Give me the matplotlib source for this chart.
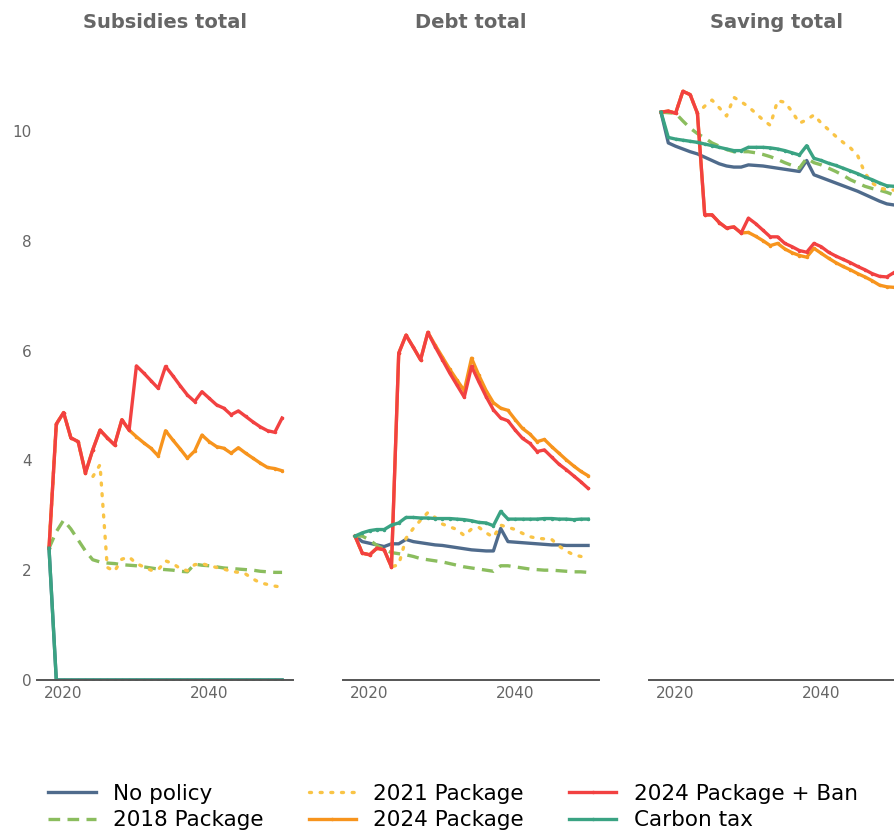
import matplotlib
matplotlib.use("Agg")
import matplotlib.pyplot as plt

years = list(range(2018, 2051))
panel_titles = ["Subsidies total", "Debt total", "Saving total"]
scenario_names = ["No policy", "2018 Package", "2021 Package", "2024 Package",
                  "2024 Package + Ban", "Carbon tax"]

# subsidies total
subsidies_no_policy = [2.40, 0, 0, 0, 0, 0, 0, 0, 0, 0, 0, 0, 0, 0, 0, 0, 0,
                       0, 0, 0, 0, 0, 0, 0, 0, 0, 0, 0, 0, 0, 0, 0, 0]
subsidies_2018 = [2.40, 2.70, 2.91, 2.75, 2.55, 2.35, 2.19, 2.15, 2.13, 2.12,
                  2.10, 2.09, 2.08, 2.06, 2.04, 2.02, 2.01, 2.00, 1.98, 1.97,
                  2.11, 2.09, 2.08, 2.06, 2.04, 2.03, 2.02, 2.01, 2.00, 1.98,
                  1.97, 1.96, 1.96]
subsidies_2021 = [2.40, 4.66, 4.87, 4.41, 4.34, 3.77, 3.70, 3.92, 2.05, 1.98,
                  2.20, 2.24, 2.12, 2.06, 2.00, 2.01, 2.17, 2.12, 2.03, 1.99,
                  2.10, 2.12, 2.08, 2.05, 2.02, 1.98, 1.96, 1.93, 1.84, 1.77,
                  1.74, 1.71, 1.69]
subsidies_2024 = [2.40, 4.66, 4.87, 4.41, 4.34, 3.77, 4.19, 4.55, 4.41, 4.28,
                  4.74, 4.55, 4.43, 4.32, 4.22, 4.08, 4.54, 4.37, 4.21, 4.04,
                  4.17, 4.46, 4.34, 4.25, 4.22, 4.13, 4.23, 4.13, 4.04, 3.95,
                  3.87, 3.85, 3.81]
subsidies_ban = [2.40, 4.66, 4.87, 4.41, 4.34, 3.77, 4.19, 4.55, 4.41, 4.28,
                 4.74, 4.55, 5.72, 5.59, 5.45, 5.31, 5.71, 5.54, 5.36, 5.19,
                 5.07, 5.25, 5.13, 5.01, 4.95, 4.83, 4.90, 4.80, 4.70, 4.61,
                 4.54, 4.51, 4.77]
subsidies_carbon = [2.40, 0, 0, 0, 0, 0, 0, 0, 0, 0, 0, 0, 0, 0, 0, 0, 0,
                    0, 0, 0, 0, 0, 0, 0, 0, 0, 0, 0, 0, 0, 0, 0, 0]

# debt total
debt_no_policy = [2.62, 2.52, 2.49, 2.46, 2.43, 2.48, 2.48, 2.56, 2.52, 2.50,
                  2.48, 2.46, 2.45, 2.43, 2.41, 2.39, 2.37, 2.36, 2.35, 2.35,
                  2.76, 2.52, 2.51, 2.50, 2.49, 2.48, 2.47, 2.46, 2.46, 2.45,
                  2.45, 2.45, 2.45]
debt_2018 = [2.62, 2.62, 2.55, 2.45, 2.38, 2.32, 2.30, 2.28, 2.25, 2.21,
             2.19, 2.17, 2.15, 2.12, 2.09, 2.06, 2.04, 2.02, 2.00, 1.98,
             2.08, 2.08, 2.06, 2.04, 2.02, 2.01, 2.00, 2.00, 1.99, 1.98,
             1.97, 1.97, 1.96]
debt_2021 = [2.62, 2.31, 2.28, 2.40, 2.37, 2.06, 2.10, 2.58, 2.76, 2.91,
             3.05, 2.96, 2.84, 2.79, 2.74, 2.63, 2.75, 2.78, 2.68, 2.60,
             2.82, 2.78, 2.74, 2.67, 2.61, 2.58, 2.57, 2.56, 2.44, 2.35,
             2.28, 2.25, 2.22]
debt_2024 = [2.62, 2.31, 2.28, 2.40, 2.37, 2.06, 5.95, 6.28, 6.06, 5.83,
             6.33, 6.10, 5.88, 5.66, 5.46, 5.27, 5.86, 5.55, 5.27, 5.05,
             4.95, 4.91, 4.74, 4.58, 4.48, 4.34, 4.38, 4.25, 4.13, 4.01,
             3.90, 3.80, 3.72]
debt_ban = [2.62, 2.31, 2.28, 2.40, 2.37, 2.06, 5.95, 6.28, 6.06, 5.83,
            6.33, 6.07, 5.83, 5.59, 5.37, 5.15, 5.71, 5.43, 5.16, 4.92,
            4.77, 4.72, 4.55, 4.40, 4.31, 4.16, 4.19, 4.06, 3.93, 3.83,
            3.72, 3.61, 3.49]
debt_carbon = [2.62, 2.68, 2.72, 2.74, 2.74, 2.82, 2.86, 2.96, 2.96, 2.95,
               2.95, 2.94, 2.94, 2.94, 2.93, 2.92, 2.90, 2.87, 2.86, 2.81,
               3.07, 2.93, 2.93, 2.93, 2.93, 2.93, 2.94, 2.94, 2.93, 2.93,
               2.92, 2.93, 2.93]

# saving total
saving_no_policy = [10.34, 9.78, 9.72, 9.67, 9.62, 9.58, 9.52, 9.46, 9.40, 9.36,
                    9.34, 9.34, 9.38, 9.37, 9.36, 9.34, 9.32, 9.30, 9.28, 9.26,
                    9.46, 9.20, 9.15, 9.10, 9.05, 9.00, 8.95, 8.90, 8.84, 8.78,
                    8.72, 8.67, 8.65]
saving_2018 = [10.34, 10.33, 10.32, 10.18, 10.05, 9.95, 9.87, 9.78, 9.72, 9.66,
               9.62, 9.62, 9.62, 9.60, 9.57, 9.53, 9.48, 9.42, 9.37, 9.32,
               9.50, 9.42, 9.38, 9.32, 9.26, 9.19, 9.11, 9.05, 8.99, 8.95,
               8.92, 8.88, 8.83]
saving_2021 = [10.34, 10.36, 10.32, 10.72, 10.66, 10.32, 10.45, 10.56, 10.42, 10.27,
               10.61, 10.53, 10.44, 10.32, 10.20, 10.10, 10.55, 10.52, 10.35, 10.14,
               10.20, 10.29, 10.14, 10.02, 9.90, 9.79, 9.69, 9.55, 9.23, 9.05,
               8.96, 8.93, 8.92]
saving_2024 = [10.34, 10.36, 10.32, 10.72, 10.66, 10.32, 8.47, 8.47, 8.33, 8.23,
               8.25, 8.14, 8.15, 8.08, 8.00, 7.91, 7.95, 7.85, 7.78, 7.73,
               7.70, 7.86, 7.77, 7.68, 7.60, 7.53, 7.47, 7.40, 7.34, 7.27,
               7.19, 7.16, 7.15]
saving_ban = [10.34, 10.36, 10.32, 10.72, 10.66, 10.32, 8.47, 8.47, 8.33, 8.23,
              8.25, 8.14, 8.41, 8.31, 8.19, 8.07, 8.07, 7.95, 7.89, 7.82,
              7.79, 7.95, 7.89, 7.79, 7.72, 7.66, 7.60, 7.53, 7.47, 7.40,
              7.35, 7.34, 7.42]
saving_carbon = [10.34, 9.88, 9.85, 9.83, 9.81, 9.79, 9.76, 9.73, 9.70, 9.67,
                 9.64, 9.64, 9.70, 9.70, 9.70, 9.69, 9.67, 9.64, 9.60, 9.56,
                 9.73, 9.50, 9.46, 9.41, 9.37, 9.32, 9.27, 9.22, 9.16, 9.11,
                 9.05, 9.00, 8.99]

panels = [
    [subsidies_no_policy, subsidies_2018, subsidies_2021, subsidies_2024, subsidies_ban, subsidies_carbon],
    [debt_no_policy, debt_2018, debt_2021, debt_2024, debt_ban, debt_carbon],
    [saving_no_policy, saving_2018, saving_2021, saving_2024, saving_ban, saving_carbon],
]

colors = ["#4f6b8c", "#8bbd5e", "#f9c446", "#f7941d", "#f24141", "#3aa383"]
styles = [
    dict(ls="-"),
    dict(ls=(0, (3.5, 2.2))),
    dict(ls=(0, (0.6, 2.6)), dash_capstyle="round"),
    dict(ls="-", marker=".", markersize=3),
    dict(ls="-", marker=".", markersize=3),
    dict(ls="-", marker=".", markersize=3),
]
grey = "#666666"

fig = plt.figure(figsize=(8.95, 8.39), dpi=100)
W, H = 895, 839
for i, (title, series) in enumerate(zip(panel_titles, panels)):
    left = 37 + i * 306
    ax = fig.add_axes([left / W, (H - 680) / H, 256 / W, 620 / H])
    handles = []
    for name, vals, c, st in zip(scenario_names, series, colors, styles):
        h, = ax.plot(years, vals, color=c, lw=2.4, label=name, **st)
        handles.append(h)
    ax.set_xlim(2016.35, 2051.5)
    ax.set_ylim(0, 11.29)
    ax.set_xticks([2020, 2040])
    ax.set_yticks([0, 2, 4, 6, 8, 10])
    for s in ["top", "right", "left"]:
        ax.spines[s].set_visible(False)
    ax.spines["bottom"].set_color("#555555")
    ax.spines["bottom"].set_linewidth(1.4)
    ax.tick_params(length=0, labelsize=11, labelcolor=grey, pad=4)
    if i > 0:
        ax.tick_params(labelleft=False)
    ax.set_title(title, fontsize=14, fontweight="bold", color=grey, pad=23)

fig.legend(handles, scenario_names, loc="center", ncol=3, frameon=False,
           bbox_to_anchor=(0.506, 0.038), fontsize=15.5, handlelength=2.2,
           handletextpad=0.8, columnspacing=2.1, labelspacing=0.3)

fig.savefig("out.png", dpi=100)
